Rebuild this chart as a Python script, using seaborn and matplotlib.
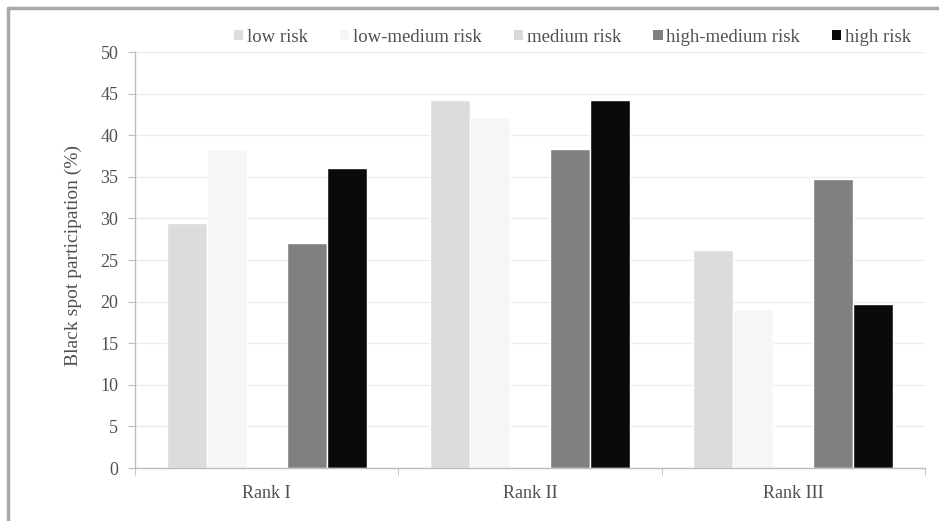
import pandas as pd
import matplotlib.pyplot as plt
import seaborn as sns
from matplotlib.lines import Line2D

ranks = ['Rank I', 'Rank II', 'Rank III']
risks = ['low risk', 'low-medium risk', 'medium risk', 'high-medium risk', 'high risk']
low = [29.4, 44.3, 26.2]
low_medium = [38.4, 42.2, 19.1]
medium = [0.0, 0.0, 0.0]
high_medium = [27.0, 38.4, 34.7]
high = [36.1, 44.2, 19.7]
colors = ['#dcdcdc', '#f6f6f6', '#d8d8d8', '#808080', '#0a0a0a']


def main():
    rows = []
    for risk, vals in zip(risks, [low, low_medium, medium, high_medium, high]):
        for rank, v in zip(ranks, vals):
            rows.append({'rank': rank, 'risk': risk, 'value': v})
    data = pd.DataFrame(rows)

    sns.set_style('white')
    plt.rcParams['font.family'] = ['Liberation Serif', 'DejaVu Serif']

    fig = plt.figure(figsize=(9.39, 5.21), dpi=100)
    ax = fig.add_axes([0.1438, 0.1017, 0.8412, 0.7983])
    sns.barplot(data=data, x='rank', y='value', hue='risk', hue_order=risks,
                palette=colors, width=0.76, saturation=1, ax=ax, legend=False)

    ax.set_ylim(0, 50)
    ax.set_xlim(-0.5, 2.5)
    ax.set_yticks(range(0, 51, 5))
    ax.yaxis.grid(True, color='#ececec', linewidth=1)
    ax.set_axisbelow(True)
    for s in ['top', 'right']:
        ax.spines[s].set_visible(False)
    for s in ['left', 'bottom']:
        ax.spines[s].set_color('#bdbdbd')
        ax.spines[s].set_linewidth(1)
    ax.tick_params(axis='y', which='major', direction='out', length=5,
                   color='#bdbdbd', labelsize=13, labelcolor='#505050', pad=7, left=True)
    ax.tick_params(axis='x', which='major', length=0, labelsize=13,
                   labelcolor='#505050', pad=12)
    ax.set_xticks([-0.5, 0.5, 1.5, 2.5], minor=True)
    ax.tick_params(axis='x', which='minor', direction='out', length=5,
                   color='#bdbdbd', bottom=True)
    ax.set_xlabel('')
    ax.set_ylabel('Black spot participation (%)', fontsize=14, color='#505050')
    ax.yaxis.set_label_coords(-0.067, 0.51)

    handles = [plt.Rectangle((0, 0), 1, 1, facecolor=c, edgecolor='none') for c in colors]
    ax.legend(handles, risks, ncol=5, frameon=False, loc='center',
              bbox_to_anchor=(0.554, 1.036), fontsize=13.5, handlelength=0.5,
              handleheight=0.5, handletextpad=0.2, columnspacing=1.7,
              labelcolor='#505050', borderpad=0)

    fig.add_artist(Line2D([8 / 939, 8 / 939], [0, 1 - 8 / 521], color='#a8a8a8', linewidth=2.5))
    fig.add_artist(Line2D([8 / 939, 1], [1 - 8 / 521, 1 - 8 / 521], color='#a8a8a8', linewidth=2.5))

    plt.savefig('out.png', dpi=100)
    plt.close()


if __name__ == '__main__':
    main()
